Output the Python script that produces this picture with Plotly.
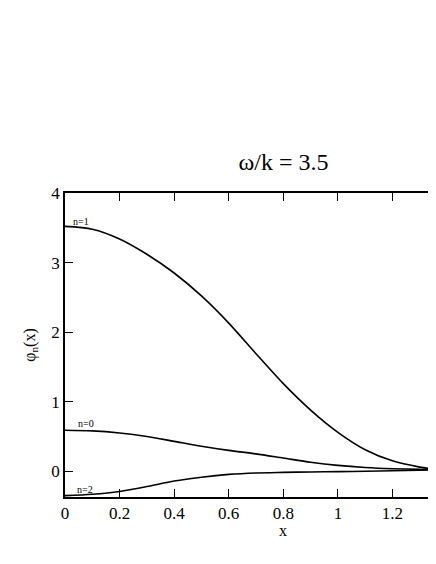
import plotly.graph_objects as go

x_vals = [0, 0.1, 0.2, 0.3, 0.4, 0.5, 0.6, 0.7, 0.8, 0.9, 1.0, 1.1, 1.2, 1.3, 1.36]
phi_n1 = [3.52, 3.48, 3.34, 3.12, 2.85, 2.52, 2.13, 1.69, 1.26, 0.88, 0.56, 0.31, 0.15, 0.06, 0.025]
phi_n0 = [0.59, 0.58, 0.55, 0.50, 0.43, 0.36, 0.30, 0.25, 0.19, 0.13, 0.085, 0.055, 0.037, 0.027, 0.022]
phi_n2 = [-0.35, -0.33, -0.29, -0.22, -0.14, -0.085, -0.045, -0.024, -0.016, -0.01, -0.005, 0.0, 0.008, 0.015, 0.02]

labels = ["n=1", "n=0", "n=2"]
label_x = [0.059, 0.077, 0.075]
label_y = [3.59, 0.68, -0.26]

x_ticks = [0, 0.2, 0.4, 0.6, 0.8, 1, 1.2]
x_tick_text = ["0", "0.2", "0.4", "0.6", "0.8", "1", "1.2"]
y_ticks = [0, 1, 2, 3, 4]

FONT = "Liberation Serif, Times New Roman, serif"

W, H = 428, 544
OFF = 8  # page body margin
PLOT_TOP, PLOT_BOTTOM = 193, 497

fig = go.Figure()
for ys in (phi_n1, phi_n0, phi_n2):
    fig.add_trace(go.Scatter(x=x_vals, y=ys, mode="lines",
                             line=dict(color="black", width=1.6, shape="spline", smoothing=0.8),
                             showlegend=False, hoverinfo="skip"))

for t, lx, ly in zip(labels, label_x, label_y):
    fig.add_annotation(x=lx, y=ly, text=t, showarrow=False,
                       font=dict(family=FONT, size=10, color="black"))

# x-axis title placed as annotation (closer to tick labels than standoff allows)
fig.add_annotation(x=(283 - 65) / (436 - 65), xref="paper",
                   y=-(520 - PLOT_BOTTOM) / (PLOT_BOTTOM - PLOT_TOP), yref="paper",
                   yanchor="top", text="x", showarrow=False,
                   font=dict(family=FONT, size=16, color="black"))

fig.update_layout(
    width=W, height=H,
    margin=dict(l=65 - OFF, r=0, t=PLOT_TOP - OFF, b=(H + OFF) - PLOT_BOTTOM, autoexpand=False),
    paper_bgcolor="white", plot_bgcolor="white",
    font=dict(family=FONT, color="black"),
    title=dict(text="ω/k = 3.5", x=(283.5 - OFF) / W, xanchor="center", xref="container",
               y=1 - (161.5 - OFF) / H, yanchor="middle", yref="container",
               font=dict(family=FONT, size=24, color="black")),
)
fig.update_xaxes(range=[0, 1.3595], tickvals=x_ticks, ticktext=x_tick_text,
                 ticks="inside", ticklen=8, tickcolor="black", tickwidth=1,
                 showline=True, linecolor="black", linewidth=1.5, mirror="ticks",
                 showgrid=False, zeroline=False,
                 tickfont=dict(family=FONT, size=17, color="black"))
fig.update_yaxes(range=[-0.37, 4], tickvals=y_ticks,
                 ticks="inside", ticklen=8, tickcolor="black", tickwidth=1,
                 showline=True, linecolor="black", linewidth=1.5, mirror=False,
                 showgrid=False, zeroline=False,
                 tickfont=dict(family=FONT, size=17, color="black"),
                 title=dict(text="φ<sub>n</sub>(x)", font=dict(family=FONT, size=16, color="black"), standoff=12))

fig.write_html("out.html")
